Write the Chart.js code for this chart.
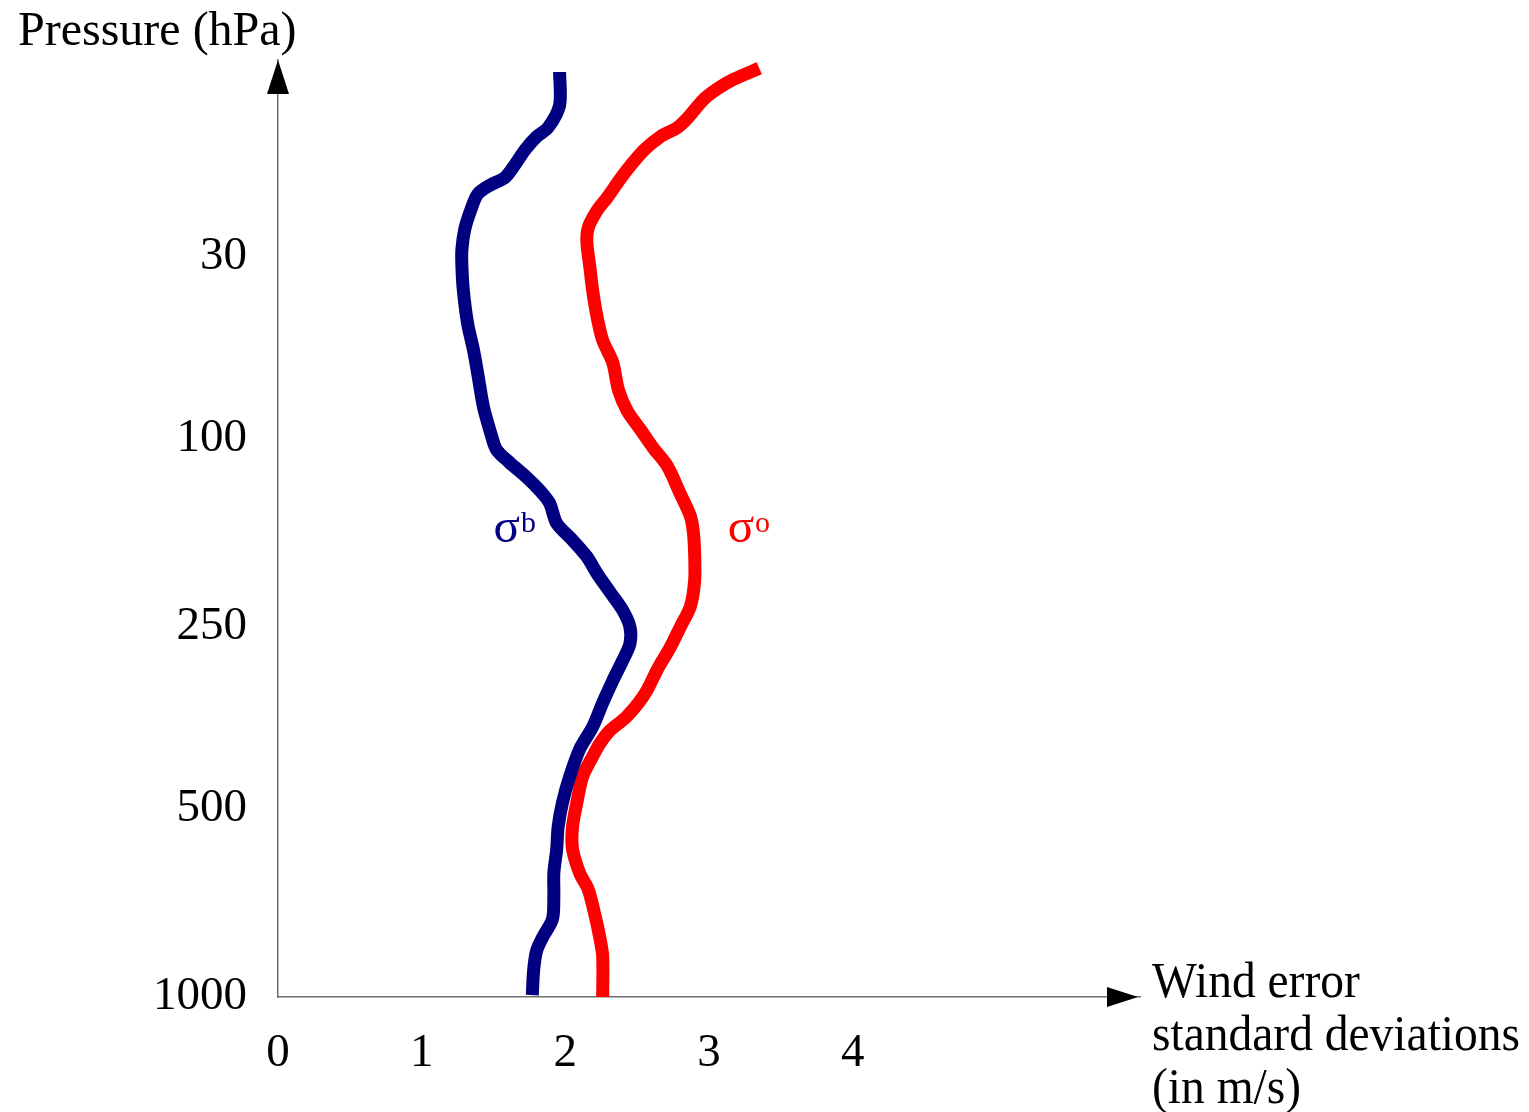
<!DOCTYPE html>
<html>
<head>
<meta charset="utf-8">
<title>Wind error standard deviations</title>
<script src="https://cdn.jsdelivr.net/npm/chart.js@4.4.1/dist/chart.umd.min.js"></script>
<style>
  html, body { margin: 0; padding: 0; background: #fff; }
  canvas { display: block; }
</style>
</head>
<body>
<canvas id="profile" width="1529" height="1112"></canvas>
<script>
// Pressure levels: evenly spaced level positions on the vertical axis
const levelPositions = [0, 1.02, 2.0, 3.02, 4.0]
const pressureLabels = ['1000', '500', '250', '100', '30']

// x tick labels (m/s)
const windTicks = [0, 1, 2, 3, 4]

// sigma_b (background error), bottom to top
const sigmaBx = [1.77, 1.78, 1.80, 1.84, 1.91, 1.92, 1.92, 1.94, 1.95, 1.98, 2.03, 2.10, 2.19, 2.26,
  2.33, 2.40, 2.45, 2.45, 2.40, 2.31, 2.22, 2.15, 2.05, 1.94, 1.89, 1.82, 1.73, 1.61, 1.52, 1.48,
  1.43, 1.39, 1.36, 1.32, 1.29, 1.28, 1.28, 1.30, 1.34, 1.39, 1.48, 1.58, 1.65, 1.72, 1.80, 1.88,
  1.96, 1.96]
const sigmaBy = [0.01, 0.15, 0.25, 0.32, 0.42, 0.54, 0.67, 0.80, 0.92, 1.05, 1.19, 1.34, 1.46, 1.59,
  1.71, 1.82, 1.91, 2.00, 2.09, 2.19, 2.29, 2.38, 2.47, 2.56, 2.67, 2.74, 2.81, 2.89, 2.96, 3.05,
  3.19, 3.37, 3.50, 3.64, 3.82, 3.95, 4.04, 4.15, 4.25, 4.34, 4.39, 4.43, 4.50, 4.58, 4.65, 4.70,
  4.82, 5.00]

const sigmaOx = [2.26, 2.26, 2.24, 2.21, 2.16, 2.10, 2.05, 2.05, 2.08, 2.12, 2.19, 2.24, 2.31, 2.42,
  2.51, 2.57, 2.64, 2.73, 2.80, 2.87, 2.90, 2.90, 2.89, 2.87, 2.80, 2.71, 2.61, 2.52, 2.43, 2.37,
  2.33, 2.26, 2.22, 2.19, 2.17, 2.15, 2.16, 2.22, 2.29, 2.38, 2.47, 2.55, 2.66, 2.78, 2.85, 2.96,
  3.06, 3.17, 3.35]
const sigmaOy = [0.00, 0.22, 0.32, 0.43, 0.58, 0.67, 0.80, 0.92, 1.05, 1.19, 1.30, 1.37, 1.44, 1.51,
  1.59, 1.66, 1.77, 1.89, 2.00, 2.11, 2.25, 2.40, 2.52, 2.60, 2.72, 2.87, 2.97, 3.07, 3.17, 3.28,
  3.43, 3.55, 3.68, 3.82, 3.95, 4.08, 4.16, 4.25, 4.32, 4.42, 4.51, 4.58, 4.65, 4.70, 4.75, 4.85,
  4.91, 4.96, 5.02]

const toPoints = (xs, ys) => xs.map((x, i) => ({ x: x, y: ys[i] }))

const serif = '"Liberation Serif", "Times New Roman", serif'
const axisColor = '#6e6e6e'

// arrows, axis titles and the sigma labels
const decorations = {
  id: 'decorations',
  afterDraw(chart) {
    const ctx = chart.ctx
    const area = chart.chartArea
    const sx = chart.scales.x
    const sy = chart.scales.y
    ctx.save()

    // arrow heads
    ctx.fillStyle = '#000'
    ctx.beginPath()
    ctx.moveTo(area.left, area.top)
    ctx.lineTo(area.left - 11, area.top + 34)
    ctx.lineTo(area.left + 11, area.top + 34)
    ctx.closePath()
    ctx.fill()
    ctx.beginPath()
    ctx.moveTo(area.right - 2, area.bottom)
    ctx.lineTo(area.right - 33, area.bottom - 10)
    ctx.lineTo(area.right - 33, area.bottom + 10)
    ctx.closePath()
    ctx.fill()

    // axis titles
    ctx.textAlign = 'left'
    ctx.textBaseline = 'alphabetic'
    ctx.font = '48px ' + serif
    ctx.fillText('Pressure (hPa)', 18, 45)

    // x title is a bit condensed in the original
    const xt = area.right + 12
    const lines = ['Wind error', 'standard deviations', '(in m/s)']
    ctx.font = '50px ' + serif
    lines.forEach((t, i) => {
      ctx.save()
      ctx.translate(xt, 997 + i * 53)
      ctx.scale(0.95, 1)
      ctx.fillText(t, 0, 0)
      ctx.restore()
    })

    // sigma labels
    const label = (txt, sup, x, y, color) => {
      const px = sx.getPixelForValue(x)
      const py = sy.getPixelForValue(y)
      ctx.fillStyle = color
      ctx.font = '49px ' + serif
      ctx.fillText(txt, px, py)
      const w = ctx.measureText(txt).width
      ctx.font = '30px ' + serif
      ctx.fillText(sup, px + w + 1, py - 10)
    }
    label('σ', 'b', 1.50, 2.46, '#000080')
    label('σ', 'o', 3.13, 2.46, '#ff0000')

    ctx.restore()
  }
}

new Chart(document.getElementById('profile'), {
  type: 'scatter',
  data: {
    datasets: [{
      label: 'σb',
      data: toPoints(sigmaBx, sigmaBy),
      showLine: true,
      borderColor: '#000080',
      borderWidth: 13,
      pointRadius: 0,
      tension: 0.3,
      borderJoinStyle: 'round'
    }, {
      label: 'σo',
      data: toPoints(sigmaOx, sigmaOy),
      showLine: true,
      borderColor: '#ff0000',
      borderWidth: 13,
      pointRadius: 0,
      tension: 0.3,
      borderJoinStyle: 'round'
    }]
  },
  options: {
    responsive: false,
    animation: false,
    layout: {
      padding: { top: 60, right: 389, left: 0, bottom: 0 }
    },
    plugins: {
      legend: { display: false },
      tooltip: { enabled: false }
    },
    scales: {
      x: {
        type: 'linear',
        min: 0,
        max: 6,
        grid: { display: false, drawTicks: false },
        border: { display: true, color: axisColor, width: 1.5 },
        afterBuildTicks: (scale) => {
          scale.ticks = windTicks.map(v => ({ value: v }))
        },
        afterFit: (scale) => { scale.height = 115 },
        ticks: {
          color: '#000',
          padding: 28,
          maxRotation: 0,
          font: { family: serif, size: 47 }
        }
      },
      y: {
        type: 'linear',
        min: 0,
        max: 5.065,
        grid: { display: false, drawTicks: false },
        border: { display: true, color: axisColor, width: 1.5 },
        afterBuildTicks: (scale) => {
          scale.ticks = levelPositions.map(v => ({ value: v }))
        },
        afterFit: (scale) => { scale.width = 278 },
        ticks: {
          color: '#000',
          padding: 31,
          font: { family: serif, size: 47 },
          callback: (value) => {
            const i = levelPositions.indexOf(value)
            return i >= 0 ? pressureLabels[i] : ''
          }
        }
      }
    }
  },
  plugins: [decorations]
})
</script>
</body>
</html>
